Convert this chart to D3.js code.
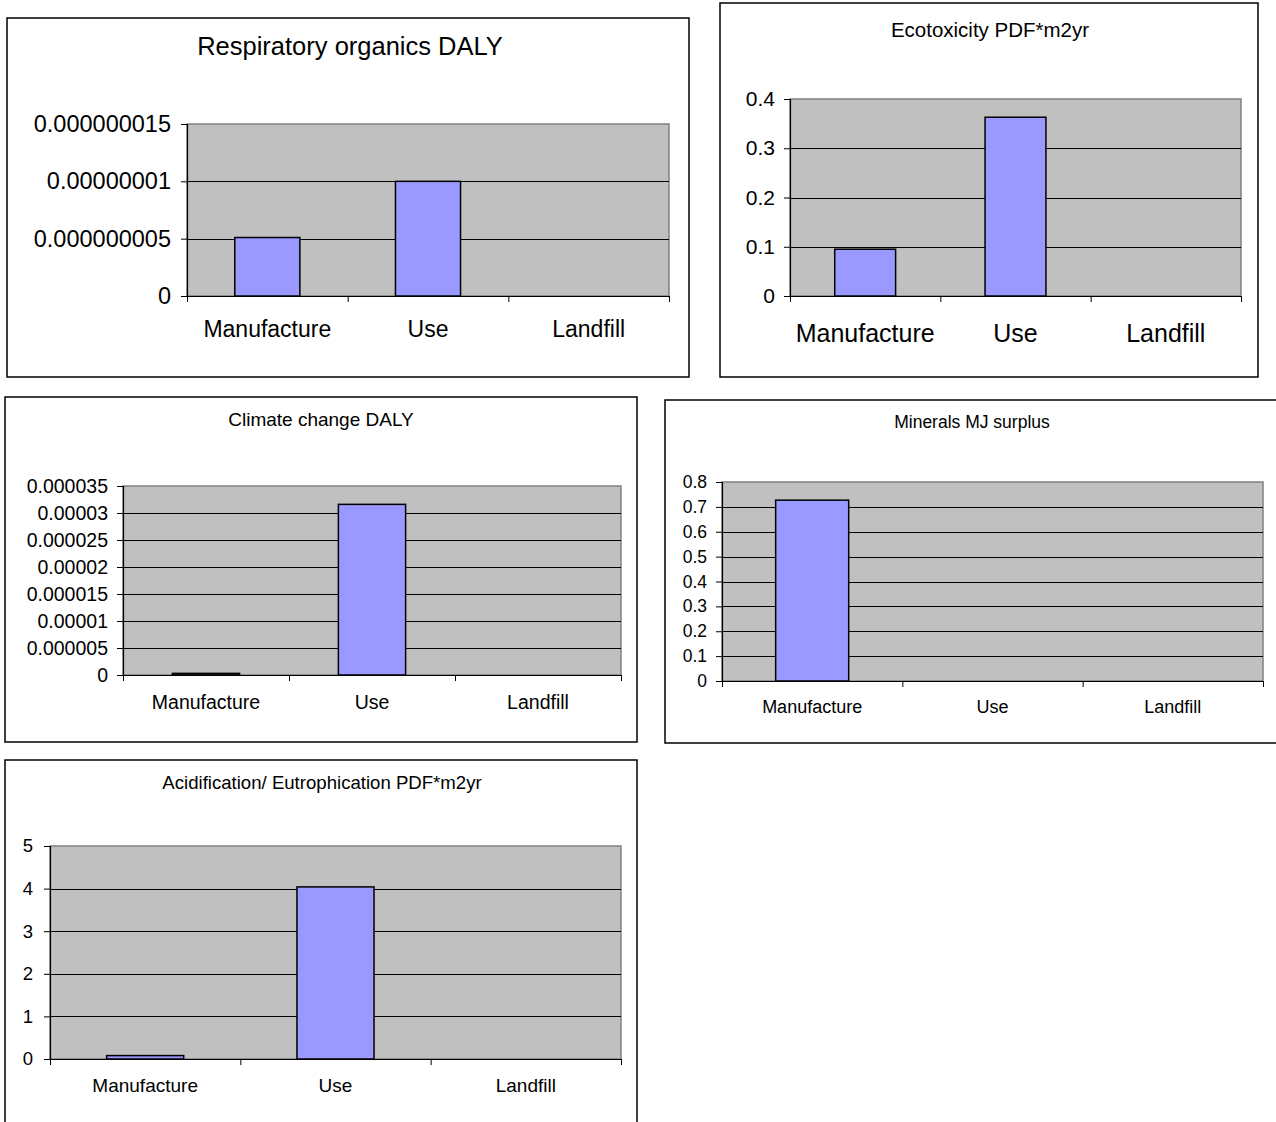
<!DOCTYPE html>
<html><head><meta charset="utf-8">
<script src="https://cdn.jsdelivr.net/npm/d3@7"></script>
<style>body{margin:0;background:#fff;} svg{display:block;font-family:"Liberation Sans",Arial,sans-serif;}</style>
</head><body>
<svg id="c" width="1276" height="1122"></svg>
<script>
const categories = ["Manufacture", "Use", "Landfill"];

const respTitle = "Respiratory organics DALY";
const respValues = [5.1e-9, 1.0e-8, 0];
const respTicks = [0, 5e-9, 1e-8, 1.5e-8];
const respTickLabels = ["0", "0.000000005", "0.00000001", "0.000000015"];

const ecoTitle = "Ecotoxicity PDF*m2yr";
const ecoValues = [0.095, 0.363, 0];
const ecoTicks = [0, 0.1, 0.2, 0.3, 0.4];
const ecoTickLabels = ["0", "0.1", "0.2", "0.3", "0.4"];

const climTitle = "Climate change DALY";
const climValues = [3e-7, 3.16e-5, 0];
const climTicks = [0, 5e-6, 1e-5, 1.5e-5, 2e-5, 2.5e-5, 3e-5, 3.5e-5];
const climTickLabels = ["0", "0.000005", "0.00001", "0.000015", "0.00002", "0.000025", "0.00003", "0.000035"];

const minTitle = "Minerals MJ surplus";
const minValues = [0.727, 0, 0];
const minTicks = [0, 0.1, 0.2, 0.3, 0.4, 0.5, 0.6, 0.7, 0.8];
const minTickLabels = ["0", "0.1", "0.2", "0.3", "0.4", "0.5", "0.6", "0.7", "0.8"];

const acidTitle = "Acidification/ Eutrophication PDF*m2yr";
const acidValues = [0.08, 4.04, 0];
const acidTicks = [0, 1, 2, 3, 4, 5];
const acidTickLabels = ["0", "1", "2", "3", "4", "5"];

const svg = d3.select("#c");

function drawChart(o) {
  const g = svg.append("g");
  // outer box
  g.append("rect").attr("x", o.box[0]).attr("y", o.box[1])
    .attr("width", o.box[2] - o.box[0]).attr("height", o.box[3] - o.box[1])
    .attr("fill", "#fff").attr("stroke", "#000").attr("stroke-width", 1.5);
  const [px0, py0, px1, py1] = o.plot;
  const x = d3.scaleBand().domain(categories).range([px0, px1]).paddingInner(0).paddingOuter(0);
  const y = d3.scaleLinear().domain([o.ticks[0], o.ticks[o.ticks.length - 1]]).range([py1, py0]);
  // plot background
  g.append("rect").attr("x", px0).attr("y", py0).attr("width", px1 - px0).attr("height", py1 - py0)
    .attr("fill", "#C0C0C0").attr("stroke", "#808080").attr("stroke-width", 1.5);
  // gridlines
  g.selectAll("line.grid").data(o.ticks.slice(1, -1)).enter().append("line")
    .attr("x1", px0).attr("x2", px1).attr("y1", d => Math.round(y(d)) + 0.5).attr("y2", d => Math.round(y(d)) + 0.5)
    .attr("stroke", "#000").attr("stroke-width", 1);
  // bars
  const bw = x.bandwidth() * 0.405;
  g.selectAll("rect.bar").data(o.values.map((v, i) => ({c: categories[i], v}))).enter()
    .filter(d => d.v > 0)
    .append("rect")
    .attr("x", d => x(d.c) + (x.bandwidth() - bw) / 2)
    .attr("y", d => y(d.v))
    .attr("width", bw)
    .attr("height", d => y(0) - y(d.v))
    .attr("fill", "#9999FF").attr("stroke", "#000").attr("stroke-width", 1.5);
  // y axis
  const ya = d3.axisLeft(y).tickValues(o.ticks).tickFormat((d, i) => o.labels[i]).tickSize(6).tickPadding(o.ypad || 8);
  const yg = g.append("g").attr("transform", `translate(${px0},0)`).call(ya);
  yg.select(".domain").attr("stroke", "#000").attr("stroke-width", 1.2);
  yg.selectAll(".tick line").attr("stroke", "#000");
  yg.selectAll("text").attr("font-size", o.yfs).attr("fill", "#000").attr("font-family", "Liberation Sans, Arial, sans-serif");
  // x axis (category ticks at band edges)
  const xs = d3.scaleLinear().domain([0, 3]).range([px0, px1]);
  const xa = d3.axisBottom(xs).tickValues([0, 1, 2, 3]).tickFormat("").tickSize(6).tickSizeOuter(0);
  const xg = g.append("g").attr("transform", `translate(0,${py1})`).call(xa);
  xg.select(".domain").attr("stroke", "#000").attr("stroke-width", 1.2);
  xg.selectAll(".tick line").attr("stroke", "#000");
  // category labels
  g.selectAll("text.cat").data(categories).enter().append("text")
    .attr("x", d => x(d) + x.bandwidth() / 2).attr("y", o.xly)
    .attr("text-anchor", "middle").attr("font-size", o.xfs).attr("fill", "#000").text(d => d);
  // title
  g.append("text").attr("x", o.tx).attr("y", o.ty).attr("text-anchor", "middle")
    .attr("font-size", o.tfs).attr("fill", "#000").text(o.title);
}

drawChart({box: [7, 18, 689, 377], plot: [187, 124, 669, 296], title: respTitle, values: respValues,
  ticks: respTicks, labels: respTickLabels, tx: 350, ty: 55, tfs: 25.5, yfs: 23.5, xfs: 23, xly: 337, ypad: 10});
drawChart({box: [720, 3, 1258, 377], plot: [790, 99, 1241, 296], title: ecoTitle, values: ecoValues,
  ticks: ecoTicks, labels: ecoTickLabels, tx: 990, ty: 37, tfs: 20.5, yfs: 21, xfs: 25, xly: 342, ypad: 9});
drawChart({box: [5, 397, 637, 742], plot: [123, 486, 621, 675], title: climTitle, values: climValues,
  ticks: climTicks, labels: climTickLabels, tx: 321, ty: 426, tfs: 19, yfs: 19.5, xfs: 19.5, xly: 709, ypad: 9});
drawChart({box: [665, 400, 1290, 743], plot: [722, 482, 1263, 681], title: minTitle, values: minValues,
  ticks: minTicks, labels: minTickLabels, tx: 972, ty: 428, tfs: 17.5, yfs: 17.5, xfs: 18, xly: 713, ypad: 9});
drawChart({box: [5, 760, 637, 1130], plot: [50, 846, 621, 1059], title: acidTitle, values: acidValues,
  ticks: acidTicks, labels: acidTickLabels, tx: 322, ty: 789, tfs: 18.6, yfs: 18.5, xfs: 19, xly: 1092, ypad: 11});
</script>
</body></html>
